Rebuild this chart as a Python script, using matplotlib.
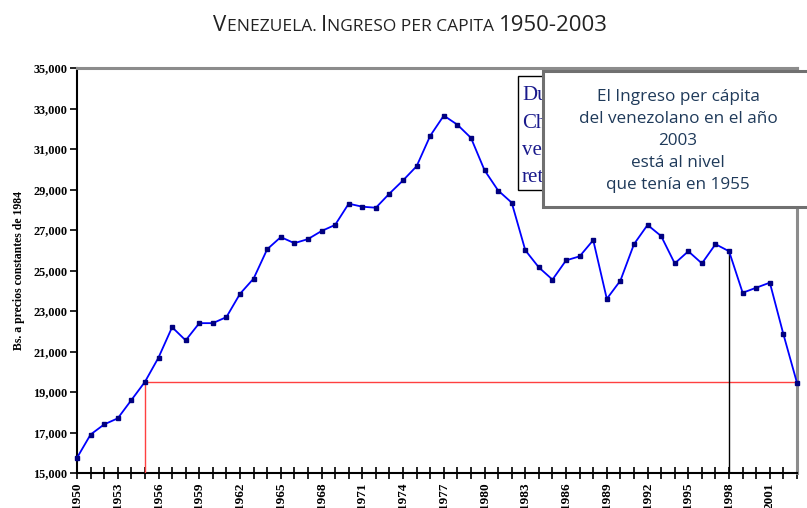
import numpy as np
import matplotlib
matplotlib.use("Agg")
import matplotlib.pyplot as plt
from matplotlib.patches import Rectangle

# ingreso per capita, Bs. a precios constantes de 1984
years = list(range(1950, 2004))
ingreso = [15750, 16900, 17400, 17700, 18600, 19500, 20700, 22200, 21550, 22400,
           22400, 22700, 23850, 24600, 26050, 26650, 26350, 26550, 26950, 27250,
           28300, 28150, 28100, 28800, 29450, 30150, 31650, 32650, 32200, 31550,
           29950, 28950, 28350, 26000, 25150, 24550, 25500, 25700, 26500, 23600,
           24500, 26300, 27250, 26700, 25350, 25950, 25350, 26300, 25950, 23900,
           24150, 24400, 21850, 19450]
year_ref = 1955
year_chavez = 1998
nivel_2003 = 19500

title_pieces = [("V", 16), ("ENEZUELA. ", 12.5), ("I", 16), ("NGRESO PER CAPITA ", 12.5), ("1950-2003", 16)]
box_lines = ["El Ingreso per cápita", "del venezolano en el año", "2003", "está al nivel", "que tenía en 1955"]
hidden_lines = ["Du", "Ch", "ve", "ret"]

W, H = 807, 508
fig = plt.figure(figsize=(W / 100, H / 100), dpi=100)
ax = fig.add_axes([77 / W, 1 - 473 / H, 720 / W, 405 / H])

ax.plot(years, ingreso, color="#0000ff", lw=1.3, marker="s", ms=3.2,
        mfc="#000080", mec="#000080", clip_on=False, zorder=4)

# lineas de referencia
ax.plot([year_ref, year_ref], [15000, nivel_2003], color="#ff4040", lw=1, zorder=3)
ax.plot([year_ref, years[-1]], [nivel_2003, nivel_2003], color="#ff4040", lw=1, zorder=3)
ax.plot([year_chavez, year_chavez], [15000, ingreso[years.index(year_chavez)]],
        color="black", lw=1, zorder=3)

ax.set_xlim(1950, 2003)
ax.set_ylim(15000, 35000)
ax.set_yticks(np.arange(15000, 35001, 2000))
ax.set_yticklabels([f"{v:,}" for v in range(15000, 35001, 2000)])
ax.set_xticks(range(1950, 2004, 3))
ax.set_xticks(range(1950, 2004), minor=True)
ax.tick_params(axis="x", which="both", direction="inout", length=9, width=1.2,
               labelrotation=90, pad=2)
ax.tick_params(axis="y", direction="out", length=5, width=1.2, pad=2)
for lab in ax.get_yticklabels():
    lab.set_fontfamily("Liberation Serif")
    lab.set_fontweight("bold")
    lab.set_fontsize(8.8)
for lab in ax.get_xticklabels():
    lab.set_fontfamily("Liberation Serif")
    lab.set_fontweight("bold")
    lab.set_fontsize(9.5)
ax.set_ylabel("Bs. a precios constantes de 1984", family="Liberation Serif",
              fontweight="bold", fontsize=8.5, labelpad=6)

for s in ["left", "bottom"]:
    ax.spines[s].set_linewidth(1.5)
    ax.spines[s].set_color("black")
for s in ["top", "right"]:
    ax.spines[s].set_linewidth(2.2)
    ax.spines[s].set_color("#8c8c8c")

# titulo en versalitas
r = fig.canvas.get_renderer()
texts = [fig.text(0, 1 - 31 / H, s, fontsize=sz, family="Open Sans", color="#222222",
                  va="baseline") for s, sz in title_pieces]
widths = [t.get_window_extent(r).width for t in texts]
x = (W - sum(widths)) / 2 + 7
for t, w in zip(texts, widths):
    t.set_x(x / W)
    x += w

# cuadro oculto detras
fig.add_artist(Rectangle((518 / W, 1 - 190 / H), 60 / W, 114 / H, transform=fig.transFigure,
                         fc="white", ec="black", lw=1, zorder=5))
for i, s in enumerate(hidden_lines):
    fig.text(522 / W, 1 - (100 + i * 27.5) / H, s, family="Liberation Serif", fontsize=15,
             color="#1a1a8c", va="baseline", zorder=6)

# cuadro principal
fig.add_artist(Rectangle((543 / W, 1 - 207 / H), 280 / W, 136 / H, transform=fig.transFigure,
                         fc="white", ec="#707070", lw=2.2, zorder=7))
for i, s in enumerate(box_lines):
    fig.text(678 / W, 1 - (101 + i * 22) / H, s, family="Open Sans", fontsize=12.3,
             color="#1f3a5a", ha="center", va="baseline", zorder=8)

fig.savefig("out.png", dpi=100)
